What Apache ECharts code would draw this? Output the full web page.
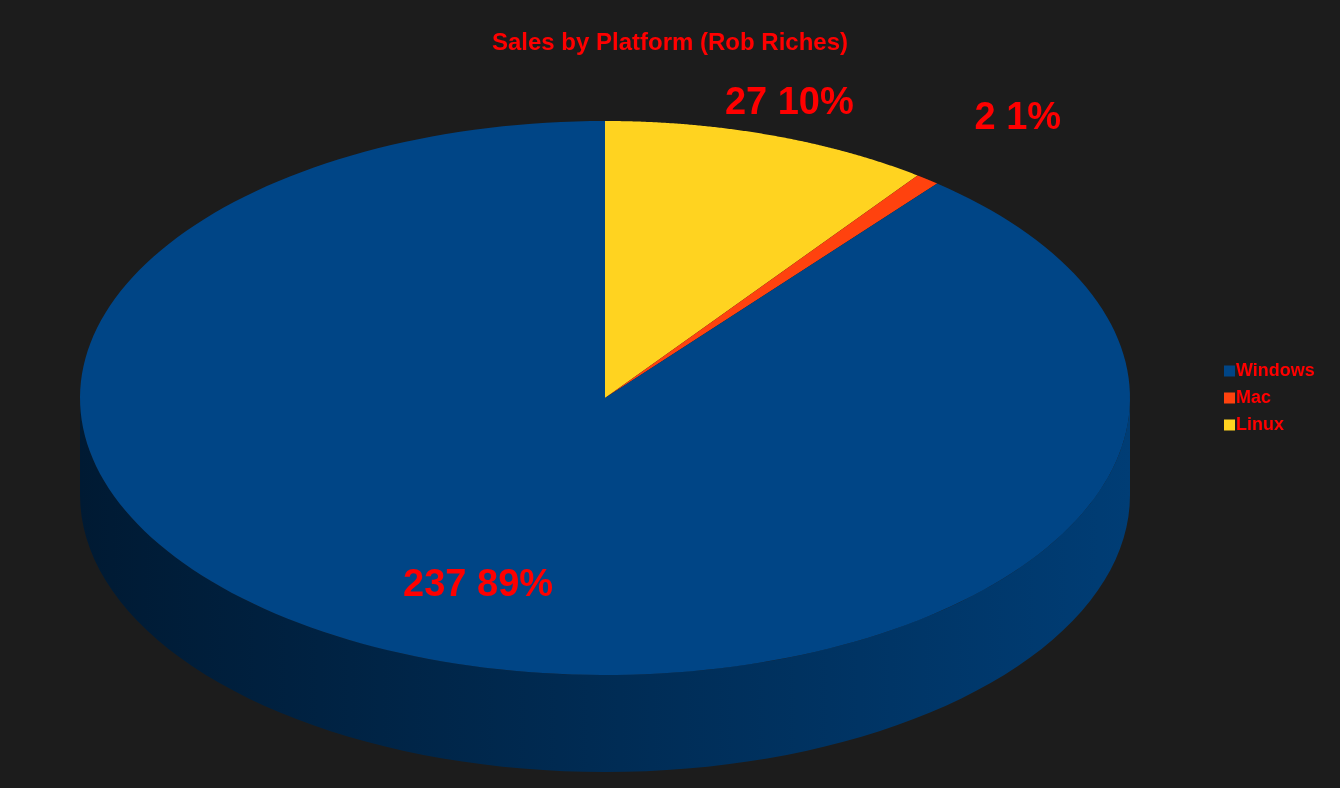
<!DOCTYPE html>
<html>
<head>
<meta charset="utf-8">
<script src="https://cdn.jsdelivr.net/npm/echarts@6/dist/echarts.min.js"></script>
<style>html,body{margin:0;background:#1c1c1c;}#chart{width:1340px;height:788px;}</style>
</head>
<body>
<div id="chart"></div>
<script>
var platforms = ['Windows', 'Mac', 'Linux'];
var sales = [237, 2, 27];
var colors = ['#004586', '#ff420e', '#ffd320'];
var sideColors = [['#001a33', '#003d75'], ['#a02a08', '#c03410'], ['#a08010', '#c09a18']];
// clockwise drawing order from 12 o'clock
var drawOrder = [2, 1, 0];

var total = sales.reduce(function (a, b) { return a + b; }, 0);
var startFrac = [];
var acc = 0;
drawOrder.forEach(function (i) { startFrac[i] = acc; acc += sales[i] / total; });

var cx = 605, cy = 398, rx = 525, ry = 277, depth = 97;
function pt(theta, r, dy) {
    return [cx + rx * r * Math.sin(theta), cy - ry * r * Math.cos(theta) + (dy || 0)];
}
var labelR = { Windows: 0.72, Mac: 1.28, Linux: 1.12 };

var myChart = echarts.init(document.getElementById('chart'));
var option = {
    backgroundColor: '#1c1c1c',
    title: {
        text: 'Sales by Platform (Rob Riches)',
        left: 'center', top: 26,
        textStyle: { color: '#ff0000', fontSize: 24, fontWeight: 'bold', fontFamily: 'Liberation Sans' }
    },
    legend: {
        orient: 'vertical', left: 1219, top: 357,
        icon: 'rect', itemWidth: 11, itemHeight: 11, itemGap: 9,
        textStyle: { color: '#ff0000', fontSize: 18, fontWeight: 'bold', fontFamily: 'Liberation Sans', padding: [0, 0, 0, -4] },
        data: platforms
    },
    series: [{
        type: 'pie', radius: [0, 0], silent: true, label: { show: false },
        data: platforms.map(function (p, i) { return { name: p, value: sales[i], itemStyle: { color: colors[i] } }; })
    }, {
        type: 'custom',
        coordinateSystem: 'none',
        data: sales,
        renderItem: function (params, api) {
            var i = drawOrder[params.dataIndex];
            var a0 = startFrac[i] * 2 * Math.PI;
            var a1 = a0 + sales[i] / total * 2 * Math.PI;
            var children = [];
            // side wall (front half: PI/2..3PI/2)
            var s0 = Math.max(a0, Math.PI / 2), s1 = Math.min(a1, 3 * Math.PI / 2);
            if (s1 > s0) {
                var side = [], n = 80, k;
                for (k = 0; k <= n; k++) side.push(pt(s0 + (s1 - s0) * k / n, 1, 0));
                for (k = n; k >= 0; k--) side.push(pt(s0 + (s1 - s0) * k / n, 1, depth));
                children.push({
                    type: 'polygon', shape: { points: side },
                    style: { fill: new echarts.graphic.LinearGradient(0, 0, 1, 0, [
                        { offset: 0, color: sideColors[i][0] }, { offset: 1, color: sideColors[i][1] }]) }
                });
            }
            var top = [[cx, cy]], m = 200;
            for (var j = 0; j <= m; j++) top.push(pt(a0 + (a1 - a0) * j / m, 1, 0));
            children.push({ type: 'polygon', shape: { points: top }, style: { fill: colors[i] } });
            var mid = (a0 + a1) / 2;
            var lp = pt(mid, labelR[platforms[i]], 0);
            children.push({
                type: 'text', x: lp[0], y: lp[1],
                style: {
                    text: sales[i] + ' ' + Math.round(sales[i] / total * 100) + '%',
                    fill: '#ff0000', fontSize: 38, fontWeight: 'bold', fontFamily: 'Liberation Sans',
                    align: 'center', verticalAlign: 'middle'
                }
            });
            return { type: 'group', children: children };
        }
    }]
};
myChart.setOption(option);
</script>
</body>
</html>
